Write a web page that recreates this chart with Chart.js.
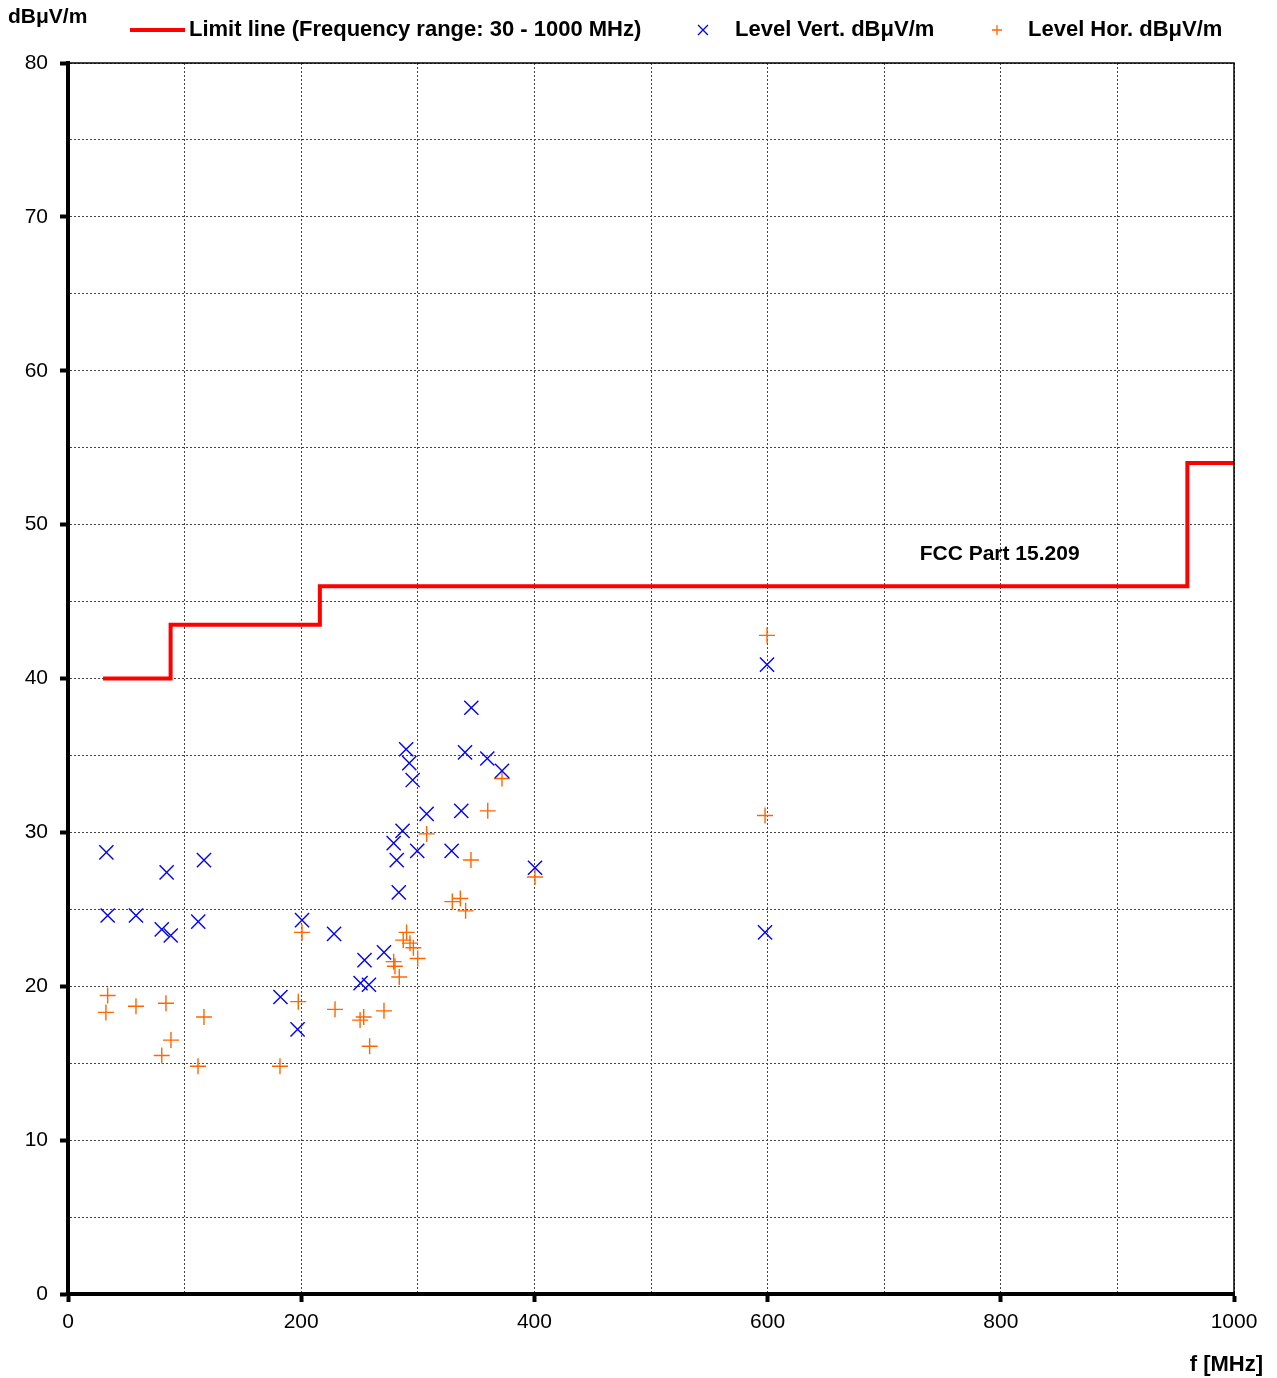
<!DOCTYPE html>
<html>
<head>
<meta charset="utf-8">
<script src="https://cdn.jsdelivr.net/npm/chart.js@4.4.1/dist/chart.umd.min.js"></script>
<style>
  html, body { margin: 0; padding: 0; background: #fff; }
  #wrap { width: 1277px; height: 1378px; position: relative; }
</style>
</head>
<body>
<div id="wrap"><canvas id="emi"></canvas></div>
<script>
// limit line (FCC Part 15.209), steps at each frequency
const limitFreq = [30, 88, 216, 960, 1000];
const limitLevel = [40, 43.5, 46, 54, 54];

// vertical polarisation peaks
const vertFreq = [32.9, 34.0, 58.3, 84.6, 80.4, 88.1, 116.6, 111.7, 182.2, 196.9, 200.7, 228.2,
    254.3, 250.9, 258.1, 271.0, 279.3, 281.9, 283.7, 286.9, 290.0, 292.7, 295.6, 299.5,
    307.6, 329.0, 337.3, 340.5, 345.9, 359.6, 372.2, 400.5, 599.5, 597.8];
const vertLevel = [28.7, 24.6, 24.6, 27.4, 23.7, 23.3, 28.2, 24.2, 19.3, 17.2, 24.3, 23.4,
    21.7, 20.2, 20.1, 22.2, 29.3, 28.2, 26.1, 30.1, 35.4, 34.5, 33.4, 28.8,
    31.2, 28.8, 31.4, 35.2, 38.1, 34.8, 34.0, 27.7, 40.9, 23.5];

// horizontal polarisation peaks
const horFreq = [32.5, 34.0, 58.3, 84.0, 80.4, 88.3, 116.6, 111.5, 181.8, 197.5, 200.7, 229.0,
    250.5, 253.6, 258.7, 271.0, 279.3, 280.4, 284.1, 287.5, 290.4, 293.3, 296.2, 299.9,
    307.6, 329.6, 336.5, 341.0, 345.6, 360.0, 372.2, 400.5, 599.5, 597.8];
const horLevel = [18.3, 19.4, 18.7, 18.9, 15.5, 16.5, 18.0, 14.8, 14.8, 19.0, 23.5, 18.5,
    17.8, 18.0, 16.1, 18.4, 21.6, 21.3, 20.6, 23.0, 23.5, 22.8, 22.5, 21.8,
    29.9, 25.5, 25.7, 24.9, 28.2, 31.4, 33.5, 27.1, 42.8, 31.1];

const xTicks = [0, 200, 400, 600, 800, 1000];
const yTicks = [0, 10, 20, 30, 40, 50, 60, 70, 80];

const pts = (xs, ys) => xs.map((x, i) => ({x: x, y: ys[i]}));

Chart.defaults.font.family = "'Liberation Sans', Arial, sans-serif";
Chart.defaults.color = "#000";

const blue = "#0000ff";
const orange = "#ff6600";
const red = "#ff0000";
const boldFont = (size) => "bold " + size + "px 'Liberation Sans', Arial, sans-serif";

// legend, axis titles, annotation and frame drawn on top
const extras = {
    id: "extras",
    afterDraw(chart) {
        const ctx = chart.ctx;
        const area = chart.chartArea;
        const sx = chart.scales.x, sy = chart.scales.y;
        ctx.save();

        ctx.strokeStyle = "#000";
        ctx.lineWidth = 1.5;
        ctx.strokeRect(area.left, area.top, area.right - area.left, area.bottom - area.top);

        ctx.fillStyle = "#000";
        ctx.textBaseline = "middle";
        ctx.font = boldFont(22);

        ctx.strokeStyle = red;
        ctx.lineWidth = 4;
        ctx.beginPath();
        ctx.moveTo(130, 30);
        ctx.lineTo(185, 30);
        ctx.stroke();
        ctx.textAlign = "left";
        ctx.fillText("Limit line (Frequency range: 30 - 1000 MHz)", 189, 30);

        ctx.lineWidth = 1.3;
        ctx.strokeStyle = blue;
        Chart.helpers.drawPoint(ctx, {pointStyle: "crossRot", radius: 7, rotation: 0, borderWidth: 1.3}, 703, 30);
        ctx.fillStyle = "#000";
        ctx.fillText("Level Vert. dBμV/m", 735, 30);

        ctx.strokeStyle = orange;
        Chart.helpers.drawPoint(ctx, {pointStyle: "cross", radius: 5, rotation: 0, borderWidth: 1.3}, 997, 30);
        ctx.fillText("Level Hor. dBμV/m", 1028, 30);

        ctx.font = boldFont(21);
        ctx.fillText("dBμV/m", 8, 17);
        ctx.textAlign = "right";
        ctx.font = boldFont(22);
        ctx.fillText("f [MHz]", 1263, 1365);

        ctx.textAlign = "center";
        ctx.font = boldFont(21);
        ctx.fillText("FCC Part 15.209", sx.getPixelForValue(799), sy.getPixelForValue(48.1));
        ctx.restore();
    }
};

new Chart(document.getElementById("emi"), {
    type: "scatter",
    data: {
        datasets: [
            {
                label: "Limit line (Frequency range: 30 - 1000 MHz)",
                type: "line",
                data: pts(limitFreq, limitLevel),
                stepped: true,
                showLine: true,
                borderColor: red,
                borderWidth: 4,
                pointRadius: 0,
                fill: false,
                order: 3
            },
            {
                label: "Level Vert. dBμV/m",
                data: pts(vertFreq, vertLevel),
                pointStyle: "crossRot",
                pointRadius: 10,
                pointBorderWidth: 1.4,
                borderColor: blue,
                backgroundColor: blue,
                order: 1
            },
            {
                label: "Level Hor. dBμV/m",
                data: pts(horFreq, horLevel),
                pointStyle: "cross",
                pointRadius: 8,
                pointBorderWidth: 1.4,
                borderColor: orange,
                backgroundColor: orange,
                order: 2
            }
        ]
    },
    options: {
        responsive: true,
        maintainAspectRatio: false,
        animation: false,
        events: [],
        layout: {
            padding: {top: 63, right: 43, left: 0, bottom: 0}
        },
        plugins: {
            legend: {display: false},
            tooltip: {enabled: false}
        },
        scales: {
            x: {
                type: "linear",
                min: 0,
                max: 1000,
                afterFit: (s) => { s.height = 84; },
                afterBuildTicks: (s) => {
                    s.ticks = [];
                    for (let v = 0; v <= 1000; v += 100) s.ticks.push({value: v});
                },
                ticks: {
                    font: {size: 21},
                    padding: 8,
                    maxRotation: 0,
                    autoSkip: false,
                    callback: (v) => xTicks.includes(v) ? String(v) : ""
                },
                grid: {
                    color: "#444",
                    lineWidth: 1,
                    tickLength: 8,
                    tickWidth: 4,
                    tickColor: (c) => c.tick && xTicks.includes(c.tick.value) ? "#000" : "rgba(0,0,0,0)"
                },
                border: {color: "#000", width: 4, dash: [2, 2]}
            },
            y: {
                type: "linear",
                min: 0,
                max: 80,
                afterFit: (s) => { s.width = 68; },
                afterBuildTicks: (s) => {
                    s.ticks = [];
                    for (let v = 0; v <= 80; v += 5) s.ticks.push({value: v});
                },
                ticks: {
                    font: {size: 21},
                    padding: 12,
                    autoSkip: false,
                    callback: (v) => yTicks.includes(v) ? String(v) : ""
                },
                grid: {
                    color: "#444",
                    lineWidth: 1,
                    tickLength: 8,
                    tickWidth: 4,
                    tickColor: (c) => c.tick && yTicks.includes(c.tick.value) ? "#000" : "rgba(0,0,0,0)"
                },
                border: {color: "#000", width: 4, dash: [2, 2]}
            }
        }
    },
    plugins: [extras]
});
</script>
</body>
</html>
